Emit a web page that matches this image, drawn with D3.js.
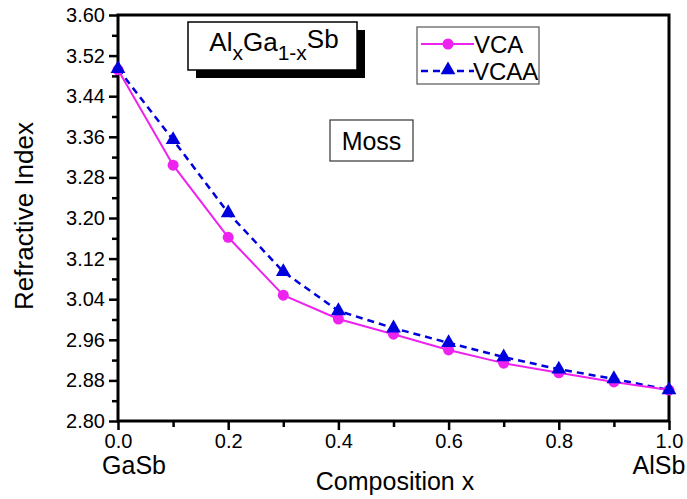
<!DOCTYPE html>
<html>
<head>
<meta charset="utf-8">
<script src="https://cdn.jsdelivr.net/npm/d3@7"></script>
<style>
    body { margin: 0; background: #fff; }
    svg { font-family: 'Liberation Sans', Arial, sans-serif; }
</style>
</head>
<body>
<svg id="chart" width="687" height="499"></svg>
<script>
const composition = [0.0, 0.1, 0.2, 0.3, 0.4, 0.5, 0.6, 0.7, 0.8, 0.9, 1.0];
const vca = [3.492, 3.304, 3.162, 3.048, 3.001, 2.971, 2.940, 2.914, 2.895, 2.877, 2.861];
const vcaa = [3.494, 3.354, 3.210, 3.094, 3.017, 2.983, 2.954, 2.926, 2.902, 2.883, 2.861];
const yTicks = [2.80, 2.88, 2.96, 3.04, 3.12, 3.20, 3.28, 3.36, 3.44, 3.52, 3.60];
const xTicks = [0.0, 0.2, 0.4, 0.6, 0.8, 1.0];

const margin = { top: 15, right: 18, left: 118, bottom: 78 };
const width = 687 - margin.left - margin.right;
const height = 499 - margin.top - margin.bottom;

const svg = d3.select('#chart');
const g = svg.append('g')
    .attr('transform', `translate(${margin.left}, ${margin.top})`);

const xScale = d3.scaleLinear().domain([0, 1]).range([0, width]);
const yScale = d3.scaleLinear().domain([2.8, 3.6]).range([height, 0]);

// minor ticks
g.append('g')
    .attr('transform', `translate(0,${height})`)
    .call(d3.axisBottom(xScale).tickValues(d3.range(0.1, 1, 0.2)).tickSize(6).tickFormat(''))
    .call(a => a.select('.domain').remove())
    .selectAll('line').attr('stroke-width', 2.5);
g.append('g')
    .call(d3.axisLeft(yScale).tickValues(d3.range(2.84, 3.6, 0.08)).tickSize(6).tickFormat(''))
    .call(a => a.select('.domain').remove())
    .selectAll('line').attr('stroke-width', 2.5);

const xAxis = g.append('g')
    .attr('transform', `translate(0,${height})`)
    .call(d3.axisBottom(xScale).tickValues(xTicks).tickSize(9).tickPadding(4).tickFormat(d3.format('.1f')));
const yAxis = g.append('g')
    .call(d3.axisLeft(yScale).tickValues(yTicks).tickSize(9).tickPadding(4).tickFormat(d3.format('.2f')));

[xAxis, yAxis].forEach(a => {
    a.select('.domain').remove();
    a.selectAll('line').attr('stroke-width', 2.5);
    a.selectAll('text')
        .attr('font-size', 20)
        .attr('font-family', "'Liberation Sans', Arial, sans-serif")
        .attr('fill', '#000');
});

// frame
g.append('rect')
    .attr('width', width)
    .attr('height', height)
    .attr('fill', 'none')
    .attr('stroke', '#000')
    .attr('stroke-width', 3);

const line = d3.line()
    .x((d, i) => xScale(composition[i]))
    .y(d => yScale(d));

const pink = '#ee22ee';
const blue = '#0000dd';

g.append('path')
    .datum(vcaa)
    .attr('d', line)
    .attr('fill', 'none')
    .attr('stroke', blue)
    .attr('stroke-width', 2.5)
    .attr('stroke-dasharray', '7,5');

g.append('path')
    .datum(vca)
    .attr('d', line)
    .attr('fill', 'none')
    .attr('stroke', pink)
    .attr('stroke-width', 2);

g.selectAll('.vca-dot')
    .data(vca)
    .enter()
    .append('circle')
    .attr('cx', (d, i) => xScale(composition[i]))
    .attr('cy', d => yScale(d))
    .attr('r', 5.5)
    .attr('fill', pink);

const tri = d3.symbol().type(d3.symbolTriangle).size(95);
g.selectAll('.vcaa-dot')
    .data(vcaa)
    .enter()
    .append('path')
    .attr('d', tri)
    .attr('transform', (d, i) => `translate(${xScale(composition[i])},${yScale(d)})`)
    .attr('fill', blue);

// compound label with shadow
svg.append('rect').attr('x', 196).attr('y', 30).attr('width', 169).attr('height', 48).attr('fill', '#000');
svg.append('rect').attr('x', 188).attr('y', 22).attr('width', 169).attr('height', 48)
    .attr('fill', '#fff').attr('stroke', '#000').attr('stroke-width', 1.5);
const formula = svg.append('text')
    .attr('x', 274).attr('y', 51)
    .attr('text-anchor', 'middle')
    .attr('font-size', 26);
formula.append('tspan').text('Al');
formula.append('tspan').attr('font-size', 21).attr('dy', 9).text('x');
formula.append('tspan').attr('dy', -9).text('Ga');
formula.append('tspan').attr('font-size', 21).attr('dy', 9).text('1-x');
formula.append('tspan').attr('dy', -12).text('Sb');

// legend
svg.append('rect').attr('x', 417).attr('y', 27).attr('width', 122).attr('height', 57)
    .attr('fill', '#fff').attr('stroke', '#555').attr('stroke-width', 1.2);
svg.append('line').attr('x1', 421).attr('x2', 474).attr('y1', 44).attr('y2', 44)
    .attr('stroke', pink).attr('stroke-width', 2);
svg.append('circle').attr('cx', 448).attr('cy', 44).attr('r', 5.5).attr('fill', pink);
svg.append('line').attr('x1', 421).attr('x2', 474).attr('y1', 71).attr('y2', 71)
    .attr('stroke', blue).attr('stroke-width', 2.5).attr('stroke-dasharray', '7,5');
svg.append('path').attr('d', tri).attr('transform', 'translate(448,70)').attr('fill', blue);
svg.append('text').attr('x', 474).attr('y', 53).attr('font-size', 24).text('VCA');
svg.append('text').attr('x', 473).attr('y', 80).attr('font-size', 24).text('VCAA');

// Moss box
svg.append('rect').attr('x', 330).attr('y', 120).attr('width', 83).attr('height', 41)
    .attr('fill', '#fff').attr('stroke', '#333').attr('stroke-width', 1.2);
svg.append('text').attr('x', 371.5).attr('y', 149.5).attr('text-anchor', 'middle')
    .attr('font-size', 25).text('Moss');

// axis titles
svg.append('text')
    .attr('text-anchor', 'middle')
    .attr('transform', 'translate(33,216) rotate(-90)')
    .attr('font-size', 26)
    .text('Refractive Index');
svg.append('text')
    .attr('text-anchor', 'middle')
    .attr('x', 395).attr('y', 490)
    .attr('font-size', 25)
    .text('Composition x');
svg.append('text')
    .attr('text-anchor', 'middle')
    .attr('x', 134).attr('y', 474)
    .attr('font-size', 25)
    .text('GaSb');
svg.append('text')
    .attr('text-anchor', 'middle')
    .attr('x', 659).attr('y', 474)
    .attr('font-size', 25)
    .text('AlSb');
</script>
</body>
</html>
